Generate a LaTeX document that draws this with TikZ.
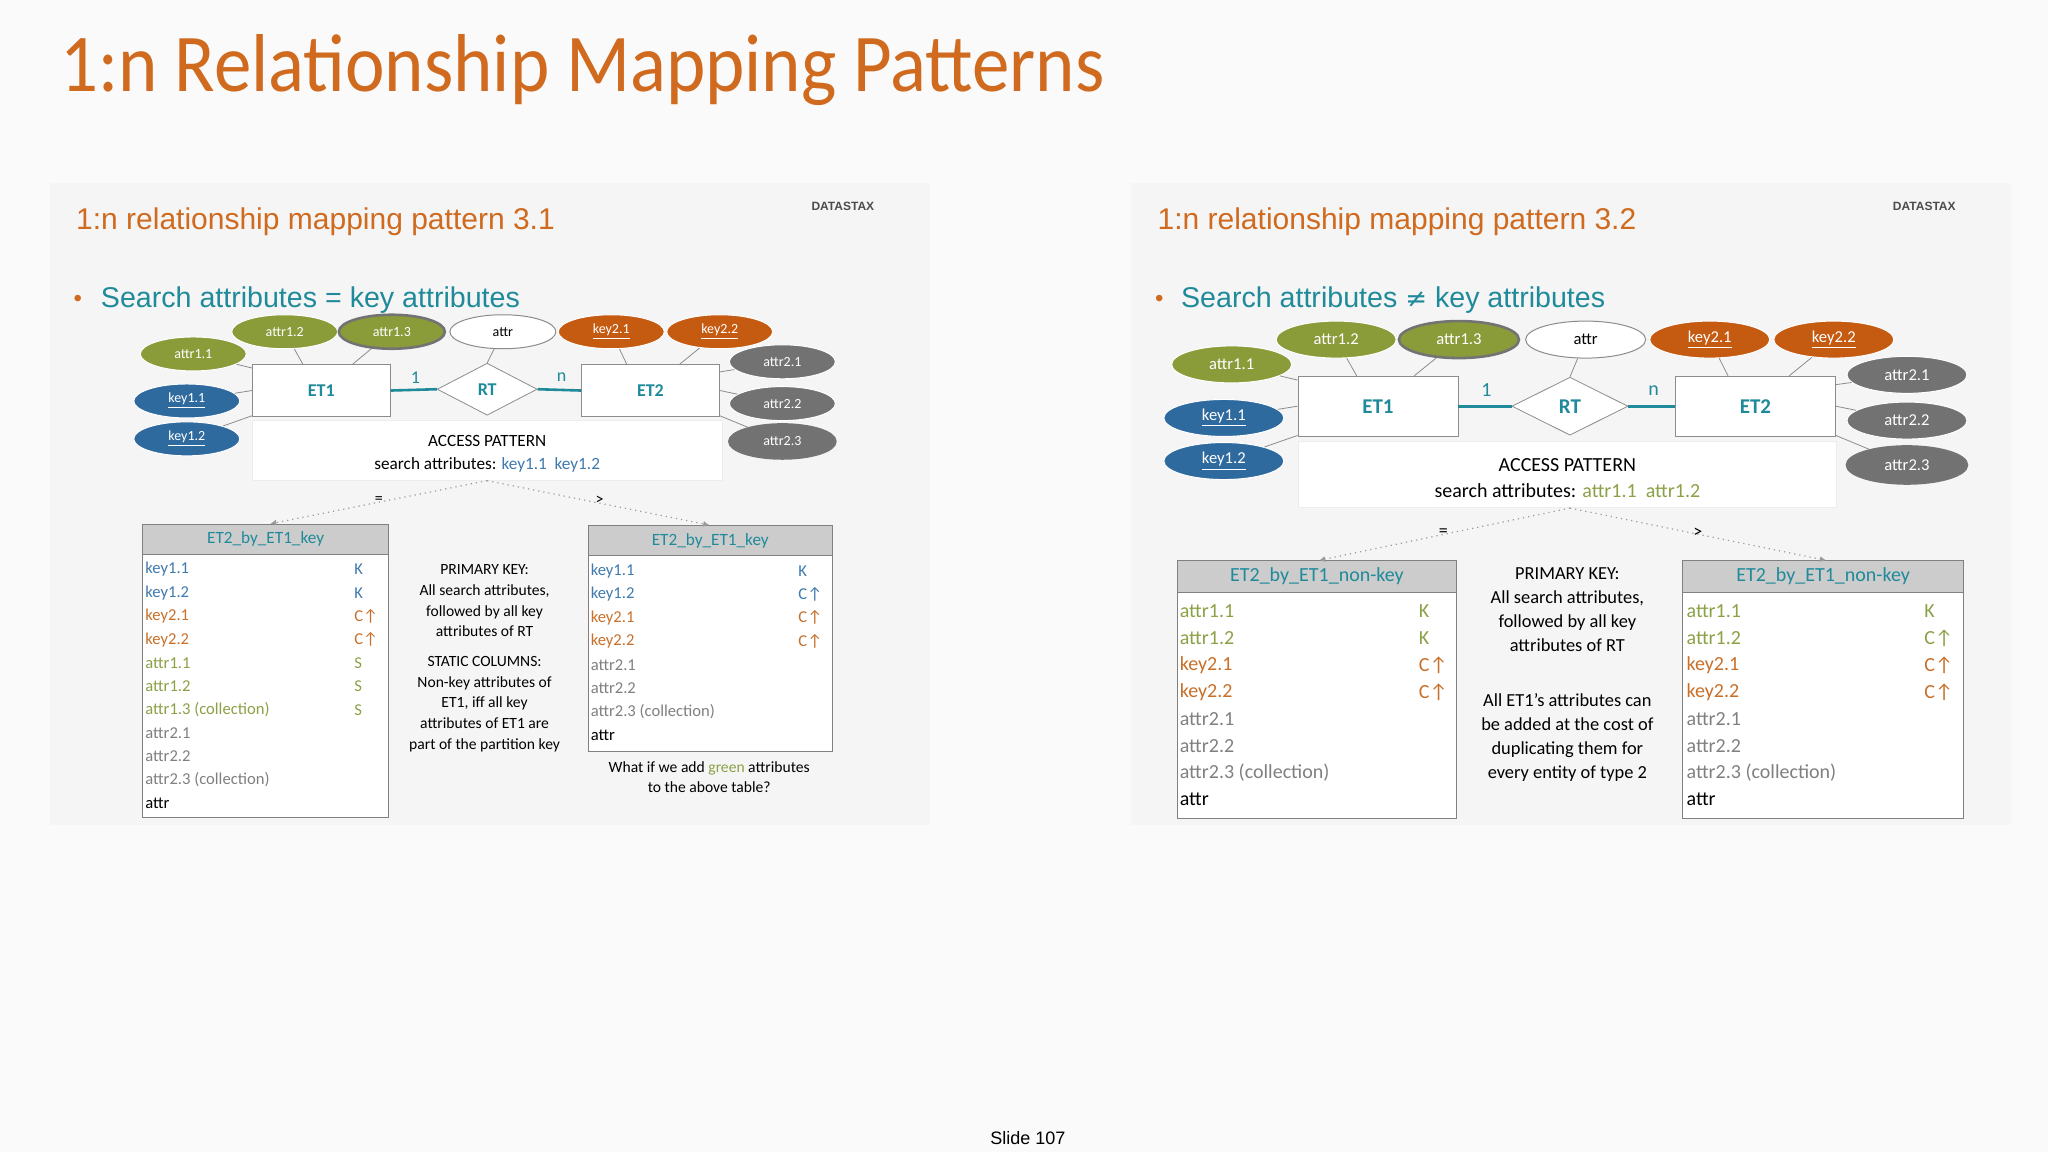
\documentclass[tikz,border=0pt]{standalone}
\usepackage{fontspec}
\setmainfont{Carlito}
\newfontfamily\arialf{Liberation Sans}
\newfontfamily\dejav{DejaVu Sans}
\usetikzlibrary{shapes.geometric,arrows.meta}
\definecolor{ttl}{HTML}{CF6A1E}
\definecolor{teal}{HTML}{1F8A9A}
\definecolor{kb}{HTML}{3F7AAE}
\definecolor{ko}{HTML}{C8702A}
\definecolor{kg}{HTML}{8BA146}
\definecolor{kgr}{HTML}{808080}
\definecolor{fg}{HTML}{8A9B3A}
\definecolor{fb}{HTML}{2F6A9E}
\definecolor{fo}{HTML}{C55A11}
\definecolor{fgr}{HTML}{727272}
\definecolor{slidebg}{HTML}{FAFAFA}
\definecolor{panelbg}{HTML}{F5F5F5}
\tikzset{
  ellL/.style={ellipse,draw=white,line width=0.5pt,minimum width=53pt,minimum height=17pt,inner sep=0pt,text=white,font=\fontsize{7}{8}\selectfont},
  ellR/.style={ellipse,draw=white,line width=0.5pt,minimum width=60pt,minimum height=18.5pt,inner sep=0pt,text=white,font=\fontsize{8.3}{9}\selectfont},
  dbl/.style={draw=black!55,line width=1.3pt},
  entL/.style={rectangle,draw=black!45,fill=white,minimum width=69pt,minimum height=26pt,text=teal,font=\fontsize{9}{10}\bfseries\selectfont},
  entR/.style={rectangle,draw=black!45,fill=white,minimum width=80pt,minimum height=30pt,text=teal,font=\fontsize{10.5}{12}\bfseries\selectfont},
  relL/.style={diamond,draw=black!45,fill=white,minimum width=50pt,minimum height=26pt,inner sep=0pt,text=teal,font=\fontsize{9}{10}\bfseries\selectfont},
  relR/.style={diamond,draw=black!45,fill=white,minimum width=58pt,minimum height=29pt,inner sep=0pt,text=teal,font=\fontsize{10.5}{12}\bfseries\selectfont},
  conn/.style={draw=black!45,line width=0.4pt},
  tconn/.style={draw=teal,line width=1.3pt},
  dots/.style={draw=black!40,dotted,line width=0.6pt,-{Latex[length=3pt,width=3pt]}},
  accbox/.style={rectangle,fill=white,draw=black!7},
  thead/.style={rectangle,draw=black!50,fill=black!20,text=teal,anchor=north west,inner sep=0pt},
  tbody/.style={rectangle,draw=black!50,fill=white,anchor=north west,inner sep=0pt},
  rowL/.style={anchor=west,inner sep=0pt,font=\fontsize{8.3}{9}\selectfont},
  rowR/.style={anchor=west,inner sep=0pt,font=\fontsize{10}{11}\selectfont},
  midL/.style={align=center,font=\fontsize{7.8}{10.4}\selectfont},
  midR/.style={align=center,font=\fontsize{9.2}{12}\selectfont},
}
\begin{document}
\begin{tikzpicture}[x=0.653pt,y=-0.653pt]
\fill[slidebg] (0,0) rectangle (1568,882);
\useasboundingbox (0,0) rectangle (1568,882);
\fill[panelbg] (38,140) rectangle (712,632);
\fill[panelbg] (866,140) rectangle (1540,632);
\node[anchor=west,text=ttl,inner sep=0pt,font=\fontsize{36}{40}\selectfont] (title) at (46,54) {\scalebox{1.04}[1.14]{1:n Relationship Mapping Patterns}};
\node[font=\arialf\fontsize{9}{10}\selectfont] (slide) at (787,871) {Slide 107};

% ---------- LEFT PANEL ----------
\node[anchor=west,text=ttl,inner sep=0pt,font=\arialf\fontsize{15}{17}\selectfont] (subL) at (58,170) {1:n relationship mapping pattern 3.1};
\node[anchor=west,inner sep=0pt,font=\arialf\fontsize{6}{7}\bfseries\selectfont,text=black!70] (logoL) at (621,158) {DATASTAX};
\node[anchor=west,text=ttl,inner sep=0pt,font=\arialf\fontsize{12}{14}\selectfont] (bulL) at (56,230) {•};
\node[anchor=west,text=teal,inner sep=0pt,font=\arialf\fontsize{14.3}{16}\selectfont] (srchL) at (77,230) {Search attributes = key attributes};

\node[accbox,minimum width=235pt,minimum height=30pt] (accL) at (373,345) {};
\node[font=\fontsize{8.6}{10}\selectfont] (accLt) at (373,338) {ACCESS PATTERN};
\node[font=\fontsize{8.6}{10}\selectfont] (accLs) at (373,356) {search attributes: \textcolor{kb}{key1.1\ \ key1.2}};

\node[entL] (ET1L) at (246,299) {ET1};
\node[entL] (ET2L) at (498,299) {ET2};
\node[relL] (RTL) at (373,298) {RT};
\node[ellL,fill=fg] (a11L) at (148,271) {attr1.1};
\node[ellL,fill=fg] (a12L) at (218,254) {attr1.2};
\node[ellL,fill=fg,dbl] (a13L) at (300,254) {attr1.3};
\node[ellL,fill=white,draw=black!45,text=black] (atL) at (385,254) {attr};
\node[ellL,fill=fo] (k21L) at (468,254) {\underline{key2.1}};
\node[ellL,fill=fo] (k22L) at (551,254) {\underline{key2.2}};
\node[ellL,fill=fgr] (a21L) at (599,277) {attr2.1};
\node[ellL,fill=fgr] (a22L) at (599,309) {attr2.2};
\node[ellL,fill=fgr,dbl] (a23L) at (599,338) {attr2.3};
\node[ellL,fill=fb] (k11L) at (143,307) {\underline{key1.1}};
\node[ellL,fill=fb] (k12L) at (143,336) {\underline{key1.2}};
\draw[conn] (a11L) -- (ET1L.162);
\draw[conn] (a12L) -- (ET1L.125);
\draw[conn] (a13L) -- (ET1L.40);
\draw[conn] (k11L) -- (ET1L.west);
\draw[conn] (k12L) -- (ET1L.200);
\draw[conn] (atL) -- (RTL.north);
\draw[conn] (k21L) -- (ET2L.132);
\draw[conn] (k22L) -- (ET2L.42);
\draw[conn] (a21L) -- (ET2L.15);
\draw[conn] (a22L) -- (ET2L.east);
\draw[conn] (a23L) -- (ET2L.-20);
\draw[tconn] (ET1L.east) -- (RTL.west);
\draw[tconn] (RTL.east) -- (ET2L.west);
\node[text=teal,font=\fontsize{9}{10}\selectfont] (oneL) at (318,289) {1};
\node[text=teal,font=\fontsize{9}{10}\selectfont] (nL) at (430,289) {n};

\coordinate (srcL) at (373,368);
\node[thead,minimum width=122.8pt,minimum height=15pt] (t1hL) at (109,401) {};
\node[text=teal,font=\fontsize{8.6}{10}\selectfont] (t1nL) at (t1hL.center) {ET2\_by\_ET1\_key};
\node[tbody,minimum width=122.8pt,minimum height=131.6pt] (t1bL) at (109,424) {};
\node[thead,minimum width=122.1pt,minimum height=15pt] (t2hL) at (450,402) {};
\node[text=teal,font=\fontsize{8.6}{10}\selectfont] (t2nL) at (t2hL.center) {ET2\_by\_ET1\_key};
\node[tbody,minimum width=122.1pt,minimum height=98pt] (t2bL) at (450,425) {};
\draw[dots] (srcL) -- (t1hL.north -| 207,0);
\draw[dots] (srcL) -- (t2hL.north -| 543,0);
\node[font=\fontsize{8}{9}\selectfont] (eqL) at (290,383) {=};
\node[font=\fontsize{8}{9}\selectfont] (gtL) at (459,383) {>};

\foreach \t/\c/\k/\kc [count=\i] in {key1.1/kb/K/kb,key1.2/kb/K/kb,key2.1/ko/C↑/ko,key2.2/ko/C↑/ko,attr1.1/kg/S/kg,attr1.2/kg/S/kg,attr1.3 (collection)/kg/S/kg,attr2.1/kgr//kgr,attr2.2/kgr//kgr,attr2.3 (collection)/kgr//kgr,attr/black//black}{
  \node[rowL,text=\c] (l1r\i) at (111,{436+17.9*(\i-1)}) {\t};
  \node[rowL,text=\kc] (l1k\i) at (271,{436+17.9*(\i-1)}) {\k};
}
\foreach \t/\c/\k/\kc [count=\i] in {key1.1/kb/K/kb,key1.2/kb/C↑/kb,key2.1/ko/C↑/ko,key2.2/ko/C↑/ko,attr2.1/kgr//kgr,attr2.2/kgr//kgr,attr2.3 (collection)/kgr//kgr,attr/black//black}{
  \node[rowL,text=\c] (l2r\i) at (452,{437+18*(\i-1)}) {\t};
  \node[rowL,text=\kc] (l2k\i) at (611,{437+18*(\i-1)}) {\k};
}
\node[midL] (pkL) at (371,460) {PRIMARY KEY:\\All search attributes,\\followed by all key\\attributes of RT};
\node[midL] (scL) at (371,539) {STATIC COLUMNS:\\Non-key attributes of\\ET1, iff all key\\attributes of ET1 are\\part of the partition key};
\node[midL] (capL) at (543,595) {What if we add \textcolor{kg}{green} attributes\\to the above table?};

% ---------- RIGHT PANEL ----------
\node[anchor=west,text=ttl,inner sep=0pt,font=\arialf\fontsize{15}{17}\selectfont] (subR) at (886,170) {1:n relationship mapping pattern 3.2};
\node[anchor=west,inner sep=0pt,font=\arialf\fontsize{6}{7}\bfseries\selectfont,text=black!70] (logoR) at (1449,158) {DATASTAX};
\node[anchor=west,text=ttl,inner sep=0pt,font=\arialf\fontsize{12}{14}\selectfont] (bulR) at (884,230) {•};
\node[anchor=west,text=teal,inner sep=0pt,font=\arialf\fontsize{14.3}{16}\selectfont] (srchR) at (904,230) {Search attributes {\dejav\fontsize{13}{15}\selectfont ≠} key attributes};

\node[accbox,minimum width=269pt,minimum height=33pt] (accR) at (1200,363) {};
\node[font=\fontsize{10}{12}\selectfont] (accRt) at (1200,356) {ACCESS PATTERN};
\node[font=\fontsize{10}{12}\selectfont] (accRs) at (1200,376) {search attributes: \textcolor{kg}{attr1.1\ \ attr1.2}};

\node[entR] (ET1R) at (1055,311) {ET1};
\node[entR] (ET2R) at (1344,311) {ET2};
\node[relR] (RTR) at (1202,311) {RT};
\node[ellR,fill=fg] (a11R) at (943,279) {attr1.1};
\node[ellR,fill=fg] (a12R) at (1023,260) {attr1.2};
\node[ellR,fill=fg,dbl] (a13R) at (1117,260) {attr1.3};
\node[ellR,fill=white,draw=black!45,text=black] (atR) at (1214,260) {attr};
\node[ellR,fill=fo] (k21R) at (1309,260) {\underline{key2.1}};
\node[ellR,fill=fo] (k22R) at (1404,260) {\underline{key2.2}};
\node[ellR,fill=fgr] (a21R) at (1460,287) {attr2.1};
\node[ellR,fill=fgr] (a22R) at (1460,322) {attr2.2};
\node[ellR,fill=fgr,dbl] (a23R) at (1460,356) {attr2.3};
\node[ellR,fill=fb] (k11R) at (937,320) {\underline{key1.1}};
\node[ellR,fill=fb] (k12R) at (937,353) {\underline{key1.2}};
\draw[conn] (a11R) -- (ET1R.162);
\draw[conn] (a12R) -- (ET1R.125);
\draw[conn] (a13R) -- (ET1R.40);
\draw[conn] (k11R) -- (ET1R.west);
\draw[conn] (k12R) -- (ET1R.200);
\draw[conn] (atR) -- (RTR.north);
\draw[conn] (k21R) -- (ET2R.132);
\draw[conn] (k22R) -- (ET2R.42);
\draw[conn] (a21R) -- (ET2R.15);
\draw[conn] (a22R) -- (ET2R.east);
\draw[conn] (a23R) -- (ET2R.-20);
\draw[tconn] (ET1R.east) -- (RTR.west);
\draw[tconn] (RTR.east) -- (ET2R.west);
\node[text=teal,font=\fontsize{10}{12}\selectfont] (oneR) at (1138,299) {1};
\node[text=teal,font=\fontsize{10}{12}\selectfont] (nR) at (1266,299) {n};

\coordinate (srcR) at (1202,389);
\node[thead,minimum width=139.7pt,minimum height=15.7pt] (t1hR) at (901,429) {};
\node[text=teal,font=\fontsize{10}{12}\selectfont] (t1nR) at (t1hR.center) {ET2\_by\_ET1\_non-key};
\node[tbody,minimum width=139.7pt,minimum height=113pt] (t1bR) at (901,453) {};
\node[thead,minimum width=140.4pt,minimum height=15.7pt] (t2hR) at (1288,429) {};
\node[text=teal,font=\fontsize{10}{12}\selectfont] (t2nR) at (t2hR.center) {ET2\_by\_ET1\_non-key};
\node[tbody,minimum width=140.4pt,minimum height=113pt] (t2bR) at (1288,453) {};
\draw[dots] (srcR) -- (t1hR.north -| 1010,0);
\draw[dots] (srcR) -- (t2hR.north -| 1398,0);
\node[font=\fontsize{9}{10}\selectfont] (eqR) at (1105,408) {=};
\node[font=\fontsize{9}{10}\selectfont] (gtR) at (1300,408) {>};

\foreach \t/\c/\k/\kc [count=\i] in {attr1.1/kg/K/kg,attr1.2/kg/K/kg,key2.1/ko/C↑/ko,key2.2/ko/C↑/ko,attr2.1/kgr//kgr,attr2.2/kgr//kgr,attr2.3 (collection)/kgr//kgr,attr/black//black}{
  \node[rowR,text=\c] (r1r\i) at (903,{468+20.6*(\i-1)}) {\t};
  \node[rowR,text=\kc] (r1k\i) at (1086,{468+20.6*(\i-1)}) {\k};
}
\foreach \t/\c/\k/\kc [count=\i] in {attr1.1/kg/K/kg,attr1.2/kg/C↑/kg,key2.1/ko/C↑/ko,key2.2/ko/C↑/ko,attr2.1/kgr//kgr,attr2.2/kgr//kgr,attr2.3 (collection)/kgr//kgr,attr/black//black}{
  \node[rowR,text=\c] (r2r\i) at (1291,{468+20.6*(\i-1)}) {\t};
  \node[rowR,text=\kc] (r2k\i) at (1473,{468+20.6*(\i-1)}) {\k};
}
\node[midR] (pkR) at (1200,467) {PRIMARY KEY:\\All search attributes,\\followed by all key\\attributes of RT};
\node[midR] (noteR) at (1200,565) {All ET1's attributes can\\be added at the cost of\\duplicating them for\\every entity of type 2};
\end{tikzpicture}
\end{document}
